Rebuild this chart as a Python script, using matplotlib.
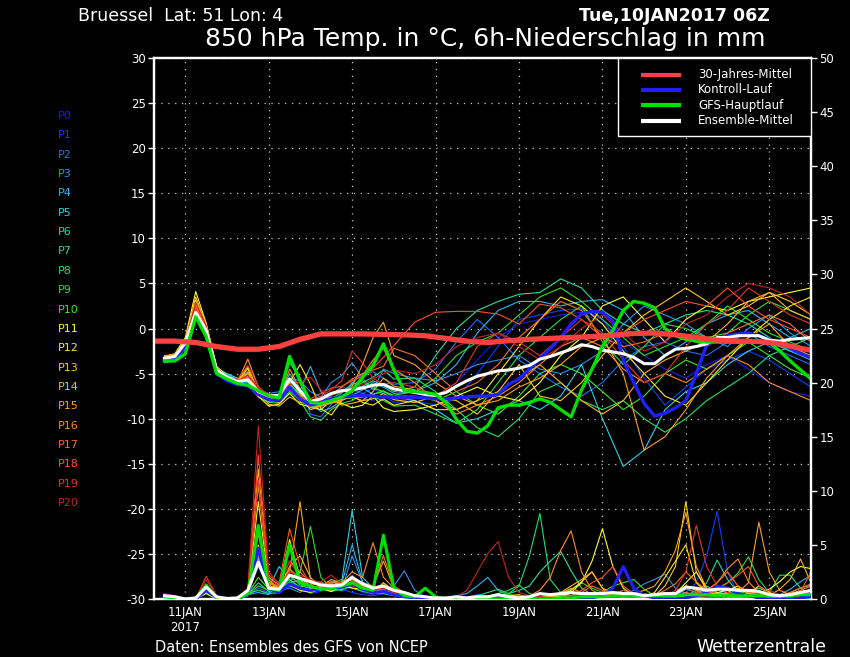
import numpy as np
import matplotlib
matplotlib.use("Agg")
from matplotlib import pyplot as plt
from matplotlib.patches import Rectangle

plt.rcParams["axes.unicode_minus"] = False

# hours after Tue 10JAN2017 06Z
hrs = list(range(6, 379, 6))                                   # 6-hourly (main runs, precip)
hrs_mem = list(range(6, 139, 6)) + list(range(150, 379, 12))   # ensemble members (temp)
clim_hrs = [0, 12, 24, 36, 48, 60, 72, 84, 96, 108, 120, 132, 144, 156, 168, 180, 192, 204,
            216, 228, 240, 252, 264, 276, 288, 300, 312, 324, 336, 348, 360, 372, 378]

tick_hrs = [18, 66, 114, 162, 210, 258, 306, 354]
tick_lbl = ["11JAN\n2017", "13JAN", "15JAN", "17JAN", "19JAN", "21JAN", "23JAN", "25JAN"]

names = ["P%d" % i for i in range(21)]
cols = ["#1c1ce6", "#0a40ff", "#1e6eff", "#2a90f0", "#28b4f0", "#28d2e6", "#20e0a0",
        "#20e070", "#28e048", "#30e020", "#3ce81e", "#ffff20", "#ffe620", "#ffc81e",
        "#ffb41e", "#ffa01e", "#ff8c1e", "#ff6e1e", "#ff5028", "#e63228", "#c8201e"]

leg_labels = ["30-Jahres-Mittel", "Kontroll-Lauf", "GFS-Hauptlauf", "Ensemble-Mittel"]

# 30-Jahres-Mittel
clim = [-1.4, -1.4, -1.55, -2.0, -2.3, -2.3, -2.0, -1.2, -0.6, -0.6, -0.6, -0.65, -0.7, -0.8,
        -1.1, -1.4, -1.55, -1.35, -1.2, -1.1, -1.0, -0.9, -0.75, -0.55, -0.5, -0.7, -1.0, -1.3,
        -1.4, -1.45, -1.7, -2.2, -2.4]

# 850 hPa temperature, main runs (6h)
t_ctrl = [-3.5, -3.3, -2.0, 1.5, -0.5, -5.0, -5.8, -6.2, -6.3, -7.3, -7.9, -8.0, -6.5, -7.8, -8.5, -8.2, -7.8, -7.6, -7.5, -7.4, -7.5,
          -7.6, -7.6, -7.7, -7.6, -7.7, -7.8, -7.8, -7.7, -7.6, -7.5, -7.5, -7.3, -6.2, -5.6, -4.5, -3.4, -2.2, -1.0, 0.5, 1.6, 1.9,
          1.8, 0.8, -3.5, -6.0, -8.3, -9.7, -9.4, -8.8, -8.0, -5.0, -1.8, -1.2, -0.8, -0.6, -0.5, -0.8, -1.2, -1.6, -2.2, -2.8, -3.2]
t_gfs = [-3.6, -3.6, -2.8, 1.3, -0.9, -5.0, -5.6, -6.1, -6.3, -6.9, -7.5, -7.7, -3.1, -5.8, -8.2, -8.3, -8.0, -7.6, -6.9, -5.4, -4.1,
         -1.7, -4.6, -6.9, -7.0, -7.1, -7.3, -8.2, -10.1, -11.4, -11.6, -10.8, -8.8, -8.5, -8.5, -8.2, -7.8, -8.2, -9.0, -9.8, -6.8, -4.5,
         -2.0, -0.2, 2.0, 3.0, 2.8, 2.3, 0.0, -0.8, -1.2, -1.4, -1.5, -1.5, -1.5, -1.5, -1.5, -1.5, -1.5, -2.5, -3.6, -4.6, -5.6]
t_mean = [-3.3, -3.1, -1.6, 1.8, -0.2, -4.6, -5.4, -5.9, -5.7, -7.0, -7.5, -7.4, -5.6, -6.9, -8.1, -7.8, -7.2, -6.9, -6.8, -6.6, -6.3,
          -6.2, -6.7, -6.9, -7.1, -7.3, -7.4, -7.1, -6.4, -5.8, -5.3, -5.0, -4.7, -4.6, -4.4, -4.1, -3.4, -3.1, -2.7, -2.3, -1.8, -2.0,
          -2.4, -2.6, -2.8, -3.2, -3.9, -3.9, -3.0, -2.3, -2.2, -2.0, -1.7, -1.0, -1.0, -0.8, -0.8, -0.8, -1.3, -1.4, -1.2, -1.1, -1.0]

# members P0..P20: 6h until +138h ...
mem_early = [
    [-3.4, -3.2, -1.9, 1.5, -0.5, -4.8, -5.6, -6.1, -5.9, -7.2, -7.8, -7.9, -7.0, -7.5, -8.4, -8.0, -7.6, -7.8, -7.4, -7.7, -8.0, -7.5, -7.8],
    [-3.2, -3.0, -1.5, 2.0, 0.0, -4.5, -5.3, -5.9, -5.2, -7.0, -7.6, -8.2, -6.2, -7.6, -9.0, -8.8, -7.5, -6.5, -6.8, -7.2, -6.6, -7.4, -8.2],
    [-3.3, -3.1, -1.7, 1.7, -0.3, -4.6, -5.5, -6.0, -6.0, -7.4, -7.9, -7.7, -6.0, -6.0, -9.5, -9.8, -8.4, -7.2, -6.0, -5.0, -4.8, -5.5, -6.2],
    [-3.5, -3.3, -1.8, 1.6, -0.4, -4.7, -5.2, -5.6, -4.8, -6.8, -7.2, -7.0, -5.5, -5.8, -7.0, -7.6, -6.0, -5.2, -3.8, -5.5, -6.8, -4.5, -5.0],
    [-3.8, -3.6, -2.2, 1.2, -0.8, -4.9, -5.8, -6.2, -6.4, -7.5, -8.0, -7.9, -6.6, -6.9, -4.2, -7.0, -8.0, -7.6, -7.4, -6.8, -6.0, -6.5, -7.2],
    [-3.6, -3.4, -2.0, 1.9, 0.2, -4.4, -5.0, -5.5, -5.6, -7.0, -7.4, -7.6, -5.0, -6.8, -8.2, -9.2, -8.8, -8.0, -6.0, -6.6, -7.3, -7.0, -7.6],
    [-3.2, -3.0, -1.6, 2.1, 0.4, -4.3, -5.1, -5.7, -5.7, -7.1, -7.6, -7.7, -6.2, -7.3, -8.7, -8.5, -8.0, -7.5, -7.0, -6.4, -5.8, -6.3, -7.0],
    [-3.3, -3.2, -1.7, 1.4, -0.6, -4.8, -5.6, -6.3, -6.0, -7.3, -7.6, -7.5, -3.8, -5.5, -8.0, -7.9, -7.4, -7.0, -6.6, -6.0, -5.4, -4.6, -5.6],
    [-3.4, -3.3, -1.8, 1.3, -0.7, -5.0, -5.7, -6.1, -6.2, -7.6, -8.2, -8.3, -7.0, -8.0, -9.8, -10.2, -9.0, -8.3, -8.0, -7.2, -7.6, -8.0, -8.6],
    [-3.3, -3.1, -1.6, 1.6, -0.3, -4.6, -5.4, -5.9, -5.6, -6.9, -7.5, -7.3, -6.0, -7.5, -8.6, -8.4, -7.8, -7.1, -6.2, -5.8, -6.6, -7.0, -7.4],
    [-3.4, -3.2, -1.7, 1.8, -0.2, -4.7, -5.5, -6.0, -5.8, -7.1, -7.7, -7.8, -6.6, -7.2, -8.0, -8.3, -8.0, -7.8, -7.7, -7.6, -7.3, -6.9, -7.5],
    [-3.1, -2.8, -1.0, 4.1, 0.6, -4.2, -5.3, -6.0, -4.4, -7.5, -8.6, -8.4, -7.2, -8.4, -8.7, -9.0, -8.0, -8.3, -8.8, -8.5, -7.5, -8.8, -9.2],
    [-3.2, -3.0, -1.3, 3.2, 0.3, -4.4, -5.4, -5.9, -5.0, -7.3, -8.0, -8.2, -6.0, -4.0, -6.2, -8.9, -9.6, -8.0, -7.4, -8.2, -8.5, -7.8, -8.5],
    [-3.3, -3.0, -1.4, 2.8, 0.1, -4.5, -5.5, -6.0, -5.3, -7.4, -8.1, -8.0, -6.4, -7.6, -9.0, -8.6, -8.2, -7.9, -7.6, -8.0, -7.8, -7.2, -7.9],
    [-3.0, -2.9, -1.2, 3.5, 0.4, -4.3, -5.3, -5.8, -4.2, -7.0, -8.4, -8.6, -7.6, -8.2, -8.4, -8.2, -7.6, -8.5, -8.3, -8.0, -7.0, -5.5, -6.4],
    [-3.1, -2.9, -1.3, 3.0, 0.2, -4.5, -5.4, -5.9, -3.4, -6.5, -7.8, -7.6, -5.5, -7.2, -8.8, -8.6, -8.1, -7.7, -6.4, -4.0, -1.0, 0.7, -3.0],
    [-3.2, -3.0, -1.4, 2.6, 0.0, -4.6, -5.5, -6.0, -4.8, -7.1, -7.9, -7.8, -4.5, -6.7, -8.4, -8.6, -8.3, -8.0, -7.0, -5.2, -3.5, -2.2, -4.5],
    [-3.3, -3.1, -1.6, 2.3, -0.1, -4.7, -5.6, -6.1, -5.5, -7.2, -7.8, -7.5, -6.8, -7.8, -8.5, -8.0, -7.3, -6.5, -5.6, -5.0, -4.6, -4.2, -2.2],
    [-3.2, -3.0, -1.5, 2.5, 0.1, -4.5, -5.4, -5.9, -5.4, -7.0, -7.6, -7.4, -5.8, -6.8, -7.8, -7.2, -6.6, -6.4, -5.8, -5.3, -4.4, -3.2, -1.9],
    [-3.4, -3.1, -1.6, 2.2, -0.2, -4.7, -5.5, -5.6, -4.1, -6.4, -7.5, -7.6, -6.8, -7.6, -8.0, -7.5, -6.8, -5.8, -2.5, -3.8, -5.5, -6.2, -6.0],
    [-3.3, -3.0, -1.5, 2.9, 0.3, -4.4, -5.3, -5.8, -5.2, -6.6, -7.3, -7.4, -6.2, -6.0, -5.4, -6.8, -7.4, -7.0, -6.6, -6.2, -5.6, -5.0, -4.6],
]
# ... then 12h from +150h
mem_late = [
    [-7.8, -7.5, -6.0, -3.5, -1.0, 0.5, 1.0, 1.5, 1.8, 0.5, -1.5, -3.0, -4.5, -5.5, -4.0, -3.0, -4.5, -6.0, -7.0, -7.5],
    [-8.0, -8.5, -7.8, -5.0, -2.0, 1.0, 1.5, 2.0, 2.2, 1.0, -2.0, -5.5, -8.5, -6.5, -4.5, -3.5, -2.5, -3.5, -5.0, -6.5],
    [-6.0, -4.5, -1.5, 1.0, -1.0, -3.5, -5.0, -6.5, -7.5, -6.0, -3.5, -2.0, -1.5, -2.5, -3.0, -1.5, -0.5, -2.0, -3.0, -4.0],
    [-5.5, -5.8, -5.0, -4.0, -3.5, -3.0, -4.5, -5.0, -4.0, -2.5, 0.5, 2.5, 1.5, 0.5, -1.0, -2.0, 0.0, 1.5, -0.5, -2.0],
    [-7.0, -6.0, -4.0, -0.5, 2.0, 3.0, 3.0, 2.5, 3.0, 3.2, 2.0, -1.0, -3.0, -1.5, 0.5, 1.5, 2.0, 0.5, -1.0, 0.0],
    [-8.0, -9.0, -10.5, -10.0, -9.0, -8.0, -9.0, -7.5, -4.0, -10.0, -15.3, -13.5, -9.0, -7.0, -6.0, -4.0, -2.5, -1.5, -2.5, -3.5],
    [-6.5, -3.0, 0.0, 2.0, 3.0, 3.8, 4.0, 5.5, 4.5, 2.0, 0.5, -0.5, 0.5, 1.5, 2.0, 1.5, 0.5, -1.0, -2.5, -3.0],
    [-5.5, -7.0, -9.0, -11.0, -12.0, -10.0, -7.0, -6.0, -8.0, -9.0, -8.0, -10.0, -11.5, -10.0, -8.0, -6.5, -5.0, -3.0, -2.0, -1.0],
    [-8.5, -9.5, -10.5, -9.0, -6.0, -3.0, -1.0, 1.0, 2.5, -1.5, -4.0, -2.0, 0.5, 0.0, -1.0, -0.5, 1.5, 3.0, 2.0, 1.0],
    [-7.0, -5.5, -3.0, -1.5, -0.5, 1.5, 3.5, 4.5, 3.0, 1.0, -1.0, -3.0, -2.0, -1.0, 0.5, 2.5, 1.0, -0.5, -1.5, -2.5],
    [-7.5, -8.0, -7.0, -8.5, -9.5, -7.5, -5.0, -4.0, -5.0, -7.0, -9.0, -7.5, -5.0, -3.5, -4.5, -3.0, -1.5, -3.0, -4.5, -5.5],
    [-9.0, -8.5, -7.5, -6.5, -7.5, -8.0, -6.0, -3.0, -1.0, 2.5, 3.5, 1.0, -1.5, 1.0, 2.5, 2.0, 3.0, 3.5, 4.0, 4.5],
    [-8.0, -9.0, -9.0, -8.0, -5.0, -2.0, 1.0, 3.5, 2.5, 0.5, -2.5, -5.0, -7.5, -8.5, -6.0, -3.5, -1.0, 1.0, 2.5, 3.5],
    [-8.2, -7.5, -8.0, -9.5, -7.0, -4.0, -7.5, -8.0, -6.0, -3.0, -0.5, 1.5, 3.0, 4.5, 3.0, 1.5, 2.5, 4.0, 3.0, 1.5],
    [-6.8, -8.0, -9.0, -8.0, -7.0, -5.5, -4.0, -6.0, -8.0, -9.5, -8.0, -5.0, -3.5, -2.5, -1.5, 0.5, 3.0, 4.0, 2.0, 1.0],
    [-4.0, -6.0, -7.5, -8.5, -8.0, -6.5, -5.5, -4.0, -2.0, -1.0, -5.0, -13.5, -12.0, -9.0, -5.5, -3.0, -1.0, 0.5, -2.0, -3.0],
    [-6.0, -8.0, -9.5, -8.5, -7.5, -6.0, -4.0, -2.0, -1.0, -2.0, -4.5, -6.0, -5.0, -6.0, -4.5, -3.0, -4.0, -6.0, -7.0, -8.0],
    [-3.0, -5.0, -7.0, -6.0, -4.0, -1.0, 1.0, 3.0, 2.0, -1.0, -2.0, -1.5, -0.5, -1.0, -2.0, -0.5, 0.5, 1.5, 0.5, -1.5],
    [0.7, 1.8, 1.9, 1.9, 1.6, 0.5, 2.7, 2.3, 1.0, -1.0, -0.5, 1.0, 2.0, 3.0, 2.5, 4.5, 2.5, 1.0, 0.0, -1.0],
    [-6.5, -7.5, -6.0, -2.0, -0.5, -1.5, -3.0, -1.0, 1.0, -0.5, -3.5, -6.0, -5.0, -2.0, 0.5, 2.0, 4.5, 3.0, 1.5, 0.5],
    [-5.0, -4.0, -2.0, -1.0, -0.5, -2.0, -3.5, -2.0, 0.0, 1.5, -0.5, -2.5, -1.5, 0.5, 1.5, 3.5, 5.0, 4.5, 3.5, 1.5],
]

# 6h precipitation (mm), same 6h hours
p_ctrl = [0.3, 0.2, 0, 0, 0.8, 0.1, 0, 0, 0.4, 4.7, 1.0, 0.6, 1.4, 1.0, 0.8, 0.9, 1.0, 1.1, 1.4, 0.9, 0.6,
          0.7, 0.4, 0.2, 0.1, 0, 0, 0, 0, 0, 0, 0, 0.1, 0, 0, 0, 0, 0, 0, 0.1, 0.1, 0.1,
          0.3, 1.0, 3.0, 1.0, 0.3, 0.1, 0, 0, 0.1, 0.3, 0.6, 1.2, 1.0, 0.5, 0.3, 0.1, 0, 0, 0, 0.1, 0.2]
p_gfs = [0.2, 0.1, 0, 0, 1.3, 0.1, 0, 0, 0.5, 6.8, 1.0, 0.8, 5.0, 1.5, 1.2, 0.9, 1.0, 1.2, 1.5, 1.0, 0.8,
         5.9, 1.0, 0.3, 0.2, 1.0, 0.2, 0, 0, 0, 0, 0, 0, 0, 0, 0, 0, 0, 0.1, 0.1, 0.2, 0.2,
         0.2, 0.3, 0.3, 0.3, 0.3, 0.3, 0.3, 0.3, 0.4, 0.4, 0.4, 0.3, 0.3, 0.3, 0.3, 0.3, 0.3, 0.3, 0.3, 0.4, 0.4]
p_mean = [0.3, 0.2, 0, 0.1, 1.1, 0.2, 0.05, 0.1, 0.8, 3.4, 1.0, 0.9, 2.2, 1.9, 1.6, 1.3, 1.2, 1.3, 2.0, 1.4, 1.0,
          1.2, 0.8, 0.6, 0.3, 0.2, 0.1, 0.1, 0.2, 0.1, 0.2, 0.2, 0.4, 0.2, 0.1, 0.2, 0.5, 0.4, 0.5, 0.6, 0.5, 0.5,
          0.5, 0.6, 0.5, 0.5, 0.3, 0.4, 0.5, 0.5, 1.1, 1.0, 0.8, 0.9, 0.9, 0.8, 0.8, 0.7, 0.4, 0.3, 0.4, 0.6, 0.8]
p_mem = [
    [0.3, 0.2, 0, 0, 0.8, 0.1, 0, 0, 0.4, 0.8, 0.5, 0.6, 1.2, 0.8, 0.6, 0.9, 1.1, 0.7, 1.2, 0.6, 0.4,
     0.8, 0.3, 0.2, 0, 0, 0, 0, 0.1, 0, 0, 0.2, 0.5, 0.2, 0, 0, 0.3, 0.1, 0, 0.2, 0.4, 0.2,
     0.1, 0.2, 0.3, 0.1, 0, 0, 0.2, 0.1, 0.4, 0.3, 0.2, 0.5, 0.3, 0.2, 0.4, 0.3, 0.1, 0, 0.2, 0.4, 0.6],
    [0.3, 0.1, 0, 0, 0.6, 0, 0, 0, 0.6, 4.7, 0.9, 0.5, 1.5, 1.2, 0.5, 0.7, 1.8, 0.9, 0.6, 0.4, 0.3,
     0.5, 0.4, 0.2, 0.1, 0, 0, 0, 0, 0, 0.1, 0.3, 0.2, 0, 0, 0, 0.2, 0.4, 0.3, 0.1, 0, 0.1,
     0.2, 0.5, 0.4, 0.2, 0, 0, 0.1, 0.2, 0.6, 1.5, 4.0, 8.1, 2.5, 0.5, 0.2, 0.1, 0.3, 0.2, 0, 0.1, 0.3],
    [0.4, 0.2, 0, 0, 0.7, 0.1, 0, 0, 0.3, 1.0, 0.6, 1.0, 2.0, 1.5, 0.8, 1.0, 0.9, 1.3, 2.2, 1.0, 0.5,
     0.6, 0.8, 0.5, 0.2, 0, 0, 0, 0.1, 0.2, 0.4, 0.3, 0.1, 0, 0, 0.2, 0.1, 0, 0, 0.3, 0.2, 0,
     0, 0.1, 0.2, 0, 0, 0.3, 0.6, 0.4, 0.2, 0.1, 0, 0.3, 0.5, 0.2, 0, 0.1, 0.2, 0.4, 0.3, 0.1, 0.2],
    [0.3, 0.2, 0, 0, 0.9, 0.1, 0, 0, 0.5, 3.0, 1.2, 0.8, 1.0, 0.6, 1.3, 1.6, 1.0, 0.8, 4.0, 1.5, 0.6,
     0.9, 1.2, 2.6, 0.8, 0.2, 0, 0, 0, 0.1, 0.3, 0.2, 0, 0, 0, 0.1, 0, 0, 0.2, 0.1, 0, 0.3,
     0.5, 0.6, 0.4, 0.8, 1.4, 1.8, 2.3, 1.0, 0.5, 0.2, 0.1, 0, 0.2, 0.3, 0.1, 0, 0, 0.2, 0.4, 0.5, 0.3],
    [0.2, 0.1, 0, 0, 0.6, 0, 0, 0, 0.4, 0.6, 0.4, 1.5, 1.2, 0.9, 0.7, 1.2, 0.8, 1.4, 5.0, 1.6, 0.9,
     1.0, 0.6, 0.5, 0.3, 0.1, 0, 0.1, 0.3, 0.5, 1.2, 2.0, 0.8, 0.3, 0.1, 0, 0.2, 0.1, 0, 0.1, 0.3, 0.2,
     0.1, 0.3, 0.2, 0, 0, 0.1, 0.2, 0.3, 0.9, 0.6, 0.3, 0.5, 0.8, 1.2, 0.6, 0.2, 0.1, 0.4, 0.9, 1.6, 2.2],
    [0.3, 0.2, 0, 0, 0.7, 0.1, 0, 0, 0.5, 3.8, 1.0, 3.0, 1.8, 1.0, 0.9, 1.4, 1.1, 1.6, 8.2, 2.0, 1.0,
     0.7, 0.4, 0.3, 0.1, 0, 0, 0, 0, 0.1, 0.2, 0.1, 0, 0, 0, 0, 0.1, 0.3, 0.2, 0, 0, 0.1,
     0.2, 0.4, 0.8, 0.5, 0.2, 0, 0, 0.2, 0.3, 0.8, 1.2, 0.6, 0.3, 0.2, 0.5, 0.4, 0.2, 0.1, 0.6, 1.0, 1.3],
    [0.3, 0.2, 0, 0, 0.8, 0.1, 0, 0, 0.4, 1.5, 0.7, 1.0, 1.5, 1.8, 1.0, 0.8, 1.3, 1.0, 1.4, 0.8, 0.6,
     0.5, 0.3, 0.2, 0, 0, 0, 0, 0, 0, 0.1, 0.2, 0.3, 0.5, 0.8, 1.2, 2.5, 3.5, 4.4, 2.6, 1.0, 0.4,
     0.2, 0.1, 0, 0.3, 0.5, 0.2, 0.1, 0, 0.2, 0.6, 1.5, 3.6, 1.8, 0.6, 0.3, 0.2, 0.1, 0, 0.3, 0.5, 0.4],
    [0.3, 0.2, 0, 0, 0.9, 0.1, 0, 0, 0.5, 0.8, 0.5, 0.6, 2.2, 1.3, 0.9, 1.1, 0.7, 0.9, 1.5, 1.1, 0.7,
     0.6, 0.4, 0.2, 0.1, 0, 0, 0, 0, 0.1, 0.3, 0.6, 0.9, 0.5, 1.2, 4.0, 7.9, 1.8, 0.6, 0.3, 0.2, 0.1,
     0, 0.1, 0.2, 0.1, 0, 0, 0.1, 0.3, 0.2, 0.1, 0.3, 0.6, 0.4, 0.5, 0.8, 1.0, 0.6, 2.2, 2.2, 1.0, 0.4],
    [0.4, 0.2, 0, 0, 1.0, 0.2, 0, 0, 0.6, 6.8, 1.5, 1.2, 2.8, 1.6, 1.2, 0.9, 1.5, 1.8, 1.0, 0.7, 0.5,
     1.5, 0.6, 0.4, 0.2, 0.1, 0, 0, 0, 0, 0, 0.2, 0.5, 0.8, 1.3, 0.5, 0.2, 0.1, 0, 0.1, 0.2, 0.1,
     0, 0, 0.1, 0.2, 0.3, 0.4, 0.2, 0.1, 0, 0.2, 0.5, 1.0, 1.5, 2.4, 3.9, 1.8, 0.6, 0.3, 0.2, 0.4, 0.3],
    [0.3, 0.2, 0, 0, 0.8, 0.1, 0, 0, 0.4, 1.2, 0.8, 0.9, 1.6, 2.5, 6.7, 2.0, 1.0, 0.8, 1.3, 0.9, 0.6,
     0.8, 0.5, 0.3, 0.1, 0, 0, 0, 0, 0, 0.1, 0.1, 0.2, 0.4, 0.3, 0.1, 0, 0.2, 0.5, 0.9, 1.5, 1.0,
     0.6, 1.2, 1.5, 1.8, 0.9, 0.3, 0.1, 0, 0.2, 0.4, 0.3, 0.2, 0.5, 0.8, 0.4, 0.2, 0.1, 0, 0.2, 0.3, 0.5],
    [0.3, 0.2, 0, 0, 1.0, 0.1, 0, 0, 0.5, 2.0, 0.9, 1.0, 1.8, 1.1, 1.4, 1.5, 1.2, 1.6, 1.8, 1.2, 0.8,
     1.0, 0.7, 0.4, 0.2, 0.1, 0, 0, 0, 0, 0, 0.1, 0.2, 0.1, 0, 0, 0.1, 0.2, 0.3, 0.5, 0.4, 0.3,
     0.2, 0.1, 0.3, 0.2, 0.1, 0, 0, 0.1, 0.3, 0.5, 0.7, 0.4, 0.2, 0.1, 0.3, 0.2, 0.5, 0.3, 0.2, 0.1, 0.2],
    [0.2, 0.1, 0, 0, 0.5, 0, 0, 0, 0.3, 3.5, 1.1, 0.7, 1.3, 0.8, 0.6, 0.9, 0.7, 1.2, 1.0, 0.9, 0.5,
     1.2, 0.8, 0.5, 0.2, 0, 0, 0, 0, 0, 0, 0.1, 0, 0, 0.2, 0.3, 0.1, 0, 0.2, 0.6, 1.5, 3.5,
     6.5, 3.0, 1.0, 0.3, 0.1, 0, 0.2, 0.5, 1.5, 2.5, 1.0, 0.6, 0.8, 1.2, 0.6, 0.4, 0.9, 1.6, 2.5, 3.0, 2.8],
    [0.3, 0.2, 0, 0, 0.7, 0.1, 0, 0, 0.5, 9.0, 1.5, 1.0, 5.5, 2.0, 1.2, 1.0, 1.3, 1.5, 2.0, 1.3, 0.9,
     0.7, 0.5, 0.3, 0.1, 0, 0, 0, 0, 0, 0, 0.1, 0.2, 0.3, 0.4, 0.1, 0, 0, 0.3, 0.8, 1.6, 2.5,
     1.0, 0.4, 0.3, 0.2, 0.1, 0.6, 2.0, 3.5, 5.0, 1.5, 0.6, 0.4, 0.2, 0.3, 0.5, 1.2, 0.6, 0.2, 0.1, 0.3, 0.5],
    [0.3, 0.2, 0, 0, 0.9, 0.1, 0, 0, 0.6, 5.0, 1.2, 1.1, 2.2, 1.8, 1.0, 1.1, 0.9, 1.2, 1.6, 1.0, 0.7,
     1.0, 0.6, 0.4, 0.2, 0, 0, 0, 0, 0, 0, 0, 0.1, 0.2, 0.1, 0, 0, 0.2, 0.4, 0.2, 0.1, 0.3,
     0.6, 0.4, 0.2, 0.1, 0, 0.3, 1.2, 3.0, 9.0, 2.5, 0.8, 0.4, 0.6, 1.0, 0.5, 0.3, 0.1, 0.2, 0.4, 0.6, 0.3],
    [0.3, 0.2, 0, 0, 0.8, 0.1, 0, 0, 0.7, 12.0, 1.8, 0.9, 3.0, 4.0, 2.0, 1.0, 1.4, 1.1, 1.3, 0.9, 0.6,
     1.5, 0.8, 0.5, 0.2, 0, 0, 0, 0, 0, 0, 0.1, 0.3, 0.2, 0.1, 0, 0.1, 0.3, 0.6, 1.2, 1.8, 2.5,
     1.0, 0.5, 0.3, 0.2, 0.1, 0, 0.3, 0.5, 1.2, 0.8, 0.5, 0.3, 0.6, 1.0, 0.7, 0.5, 0.3, 0.9, 1.8, 3.7, 1.5],
    [0.3, 0.2, 0, 0, 1.0, 0.2, 0, 0, 0.8, 10.5, 2.0, 1.3, 2.5, 9.0, 1.8, 1.2, 1.6, 1.4, 1.8, 1.5, 1.2,
     3.5, 1.0, 0.5, 0.2, 0, 0, 0, 0, 0, 0, 0.2, 0.4, 0.3, 0.1, 0, 0, 0.2, 0.5, 1.0, 0.6, 0.3,
     0.2, 0.4, 0.3, 0.5, 0.8, 1.2, 2.5, 4.5, 8.0, 3.0, 1.0, 0.5, 0.4, 0.6, 1.5, 7.1, 2.5, 0.8, 0.4, 0.5, 0.8],
    [0.3, 0.2, 0, 0, 0.9, 0.1, 0, 0, 0.6, 6.0, 1.4, 1.2, 3.5, 2.5, 1.5, 1.2, 1.8, 1.5, 2.5, 2.0, 5.2,
     2.0, 1.0, 0.6, 0.3, 0.1, 0, 0, 0, 0, 0.1, 0.2, 0.1, 0, 0.1, 0.3, 0.8, 2.0, 4.5, 6.3, 2.5, 0.8,
     0.4, 0.3, 0.2, 0.1, 0, 0, 0.1, 0.3, 0.6, 0.4, 0.8, 1.5, 2.8, 3.7, 1.6, 0.6, 0.3, 0.2, 0.5, 0.8, 1.2],
    [0.4, 0.3, 0, 0, 1.1, 0.2, 0, 0, 0.7, 4.0, 1.6, 1.0, 2.8, 1.9, 1.6, 1.3, 1.2, 1.5, 1.8, 1.2, 1.0,
     4.0, 1.2, 0.6, 0.3, 0.1, 0, 0, 0, 0, 0, 0.1, 0.3, 0.2, 0, 0, 0.2, 0.5, 0.3, 0.2, 0.6, 1.2,
     0.8, 0.6, 0.4, 0.2, 0.1, 0.3, 0.8, 1.4, 2.5, 1.6, 0.8, 1.5, 2.5, 1.2, 0.6, 0.4, 0.2, 0.3, 0.6, 1.0, 1.4],
    [0.4, 0.3, 0, 0, 1.2, 0.2, 0, 0, 0.8, 13.3, 2.2, 1.5, 6.5, 3.0, 1.4, 1.3, 1.5, 1.0, 1.6, 1.4, 0.9,
     1.2, 0.7, 0.4, 0.2, 0, 0, 0, 0, 0.1, 0, 0, 0.1, 0.2, 0.3, 0.2, 0.1, 0, 0, 0.3, 0.8, 1.5,
     2.0, 3.0, 1.2, 0.5, 0.2, 0.1, 0.3, 0.5, 1.0, 0.6, 0.4, 0.8, 1.5, 2.2, 3.0, 1.2, 0.5, 0.2, 0.4, 0.7, 2.5],
    [0.4, 0.3, 0, 0, 2.1, 0.3, 0, 0, 0.9, 11.0, 1.9, 1.2, 2.5, 2.2, 1.8, 1.5, 1.2, 1.3, 1.5, 1.0, 0.8,
     1.0, 0.6, 0.4, 0.2, 0, 0, 0, 0, 0, 0.1, 0.2, 0.1, 0, 0, 0, 0.2, 0.1, 0, 0.2, 0.3, 0.5,
     0.3, 0.5, 0.8, 0.4, 0.2, 0.1, 0.3, 0.8, 2.5, 6.8, 3.0, 1.2, 0.6, 0.4, 0.3, 0.5, 0.8, 0.4, 0.2, 0.3, 0.6],
    [0.5, 0.3, 0, 0, 1.8, 0.2, 0, 0, 1.0, 16.0, 2.5, 1.4, 3.5, 2.0, 1.5, 1.6, 2.2, 1.4, 1.2, 1.0, 0.8,
     1.0, 0.6, 0.4, 0.2, 0.1, 0, 0, 0.2, 0.8, 2.5, 4.2, 5.3, 2.0, 0.6, 0.3, 0.2, 0.1, 0, 0.2, 0.4, 0.3,
     0.2, 0.1, 0.2, 0.1, 0, 0, 0.1, 0.2, 0.5, 0.3, 0.2, 0.1, 0.3, 0.4, 0.2, 0.1, 0, 0.1, 0.2, 0.3, 0.2],
]

c_clim = "#ff4040"
c_ctrl = "#2020ff"
c_gfs = "#00e000"

fig = plt.figure(figsize=(8.5, 6.57), dpi=100, facecolor="black")
ax = fig.add_axes([0.1812, 0.0883, 0.7729, 0.8234], facecolor="black")
ax2 = ax.twinx()

# temperature (left axis)
for i in range(21):
    ax.plot(hrs_mem, mem_early[i] + mem_late[i], color=cols[i], lw=0.8, zorder=2)
ax.plot(hrs, t_ctrl, color=c_ctrl, lw=2.4, zorder=3)
ax.plot(hrs, t_mean, color="white", lw=2.2, zorder=4)
ax.plot(hrs, t_gfs, color=c_gfs, lw=2.4, zorder=5)
ax.plot(clim_hrs, clim, color=c_clim, lw=3.8, zorder=6)

# precipitation (right axis)
for i in range(21):
    ax2.plot(hrs, p_mem[i], color=cols[i], lw=0.8, zorder=2)
ax2.plot(hrs, p_ctrl, color=c_ctrl, lw=2.2, zorder=3)
ax2.plot(hrs, p_gfs, color=c_gfs, lw=2.2, zorder=4)
ax2.plot(hrs, p_mean, color="white", lw=2.2, zorder=5)

ax.set_xlim(0, 378)
ax.set_ylim(-30, 30)
ax2.set_ylim(0, 50)
ax.set_yticks(range(-30, 31, 5))
ax2.set_yticks(range(0, 51, 5))
ax.set_xticks(tick_hrs)
ax.set_xticklabels(tick_lbl)

ax.set_axisbelow(True)
ax.grid(True, color="#c8c8c8", linestyle=(0, (1, 4.5)), linewidth=0.9)

for a in (ax, ax2):
    for s in a.spines.values():
        s.set_color("white")
        s.set_linewidth(1.6)
ax.tick_params(axis="y", colors="white", labelsize=8.5, length=4, width=1, pad=2)
ax2.tick_params(axis="y", colors="white", labelsize=8.5, length=4, width=1, pad=2)
ax.tick_params(axis="x", colors="white", labelsize=8.5, length=0, pad=5)

# legend box, top right (axes fractions)
ax2.add_patch(Rectangle((0.706, 0.856), 0.294, 0.144, transform=ax2.transAxes,
                        facecolor="black", edgecolor="white", lw=1.0, zorder=20))
leg_cols = [c_clim, c_ctrl, c_gfs, "white"]
leg_y = [0.969, 0.941, 0.913, 0.884]
for lab, c, yy in zip(leg_labels, leg_cols, leg_y):
    ax2.plot([0.741, 0.802], [yy, yy], color=c, lw=3, transform=ax2.transAxes,
             zorder=21, solid_capstyle="butt")
    ax2.text(0.828, yy, lab, color="white", fontsize=8.5, va="center", ha="left",
             transform=ax2.transAxes, zorder=22)

# member names on the left
for i in range(21):
    fig.text(58 / 850, 1 - (116 + 19.35 * i) / 657, names[i], color=cols[i],
             fontsize=8, va="center", ha="left")

fig.text(78 / 850, 1 - 16 / 657, "Bruessel  Lat: 51 Lon: 4", color="white",
         fontsize=12.5, va="center", ha="left")
fig.text(770 / 850, 1 - 16 / 657, "Tue,10JAN2017 06Z", color="white",
         fontsize=12.5, va="center", ha="right", fontweight="bold")
fig.text(485 / 850, 1 - 39 / 657, "850 hPa Temp. in °C, 6h-Niederschlag in mm",
         color="white", fontsize=18, va="center", ha="center")
fig.text(155 / 850, 1 - 647 / 657, "Daten: Ensembles des GFS von NCEP", color="white",
         fontsize=10.5, va="center", ha="left")
fig.text(826 / 850, 1 - 647 / 657, "Wetterzentrale", color="white",
         fontsize=12.5, va="center", ha="right")

fig.savefig("out.png", dpi=100, facecolor="black")
